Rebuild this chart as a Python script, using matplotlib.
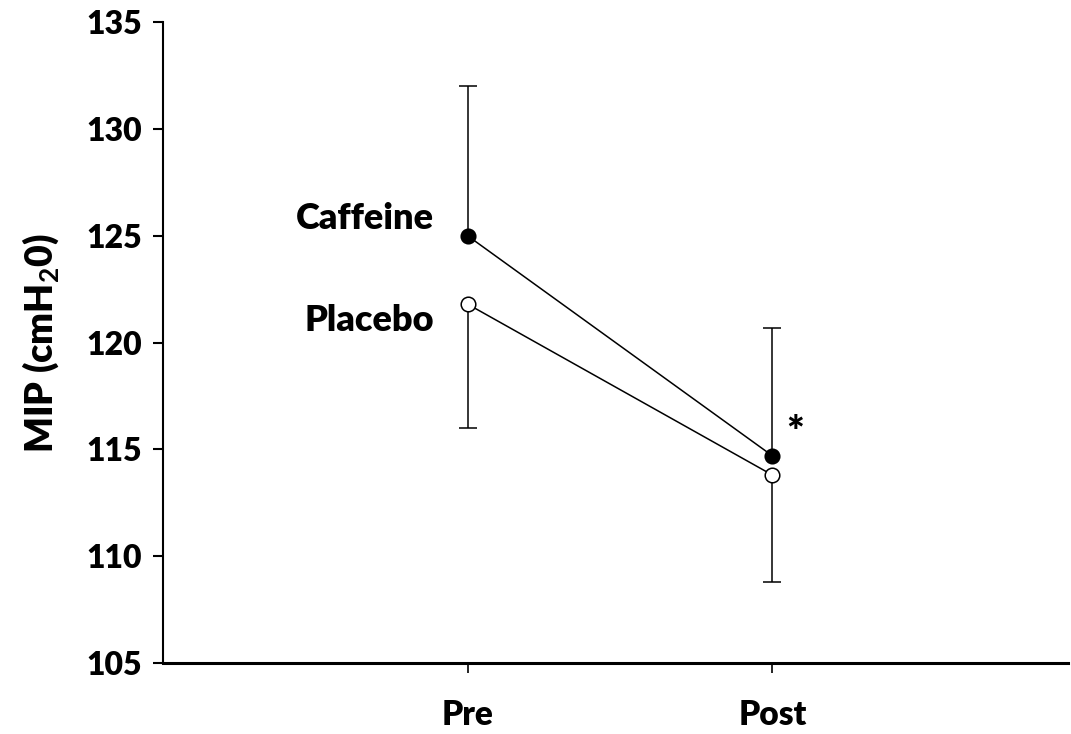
import matplotlib.pyplot as plt
import numpy as np

# Data
timepoints = ['Pre', 'Post']
caffeine = np.asarray([125.0, 114.7])
caffeine_sd = np.asarray([7.0, 6.0])
placebo = np.asarray([121.8, 113.8])
placebo_sd = np.asarray([5.8, 5.0])

plt.rcParams['font.family'] = ['Lato', 'DejaVu Sans']
plt.rcParams['font.weight'] = 'bold'
plt.rcParams['mathtext.fontset'] = 'custom'
plt.rcParams['mathtext.rm'] = 'Lato:bold'
plt.rcParams['mathtext.bf'] = 'Lato:bold'

fig = plt.figure(figsize=(10.71, 7.34), dpi=100)
ax = fig.add_axes([0.1522, 0.0967, 0.845, 0.873])

x = np.arange(1, len(timepoints) + 1)

# One-sided error bars: caffeine up, placebo down
_, caps_c, _ = ax.errorbar(x, caffeine, yerr=[np.zeros(2), caffeine_sd], fmt='none',
                           ecolor='black', elinewidth=1.1, capsize=6.5, capthick=1.1, zorder=1)
caps_c[0].set_visible(False)
_, caps_p, _ = ax.errorbar(x, placebo, yerr=[placebo_sd, np.zeros(2)], fmt='none',
                           ecolor='black', elinewidth=1.1, capsize=6.5, capthick=1.1, zorder=1)
caps_p[1].set_visible(False)

ax.plot(x, caffeine, color='black', lw=1.1, marker='o', markersize=10.5,
        markerfacecolor='black', markeredgecolor='black', markeredgewidth=1.1, zorder=3)
ax.plot(x, placebo, color='black', lw=1.1, marker='o', markersize=10.5,
        markerfacecolor='white', markeredgecolor='black', markeredgewidth=1.1, zorder=3)

# Series labels and significance marker
ax.text(0.89, 125.8, 'Caffeine', ha='right', va='center', fontsize=26, fontweight='heavy')
ax.text(0.89, 121.05, 'Placebo', ha='right', va='center', fontsize=26, fontweight='heavy')
ax.text(2.075, 115.7, '*', ha='center', va='center', fontsize=30, fontweight='heavy')

ax.set_xlim(0, 2.97)
ax.set_ylim(105, 135)
ax.set_xticks(x)
ax.set_xticklabels(timepoints, fontsize=24, fontweight='heavy')
ax.set_yticks(np.arange(105, 136, 5))
ax.tick_params(axis='y', labelsize=23, direction='out', length=7, width=1.5, pad=8)
ax.tick_params(axis='x', direction='out', length=7, width=1.2, pad=19)
for lab in ax.get_yticklabels():
    lab.set_fontweight('heavy')

ax.set_ylabel('MIP (cmH$_{\\mathbf{2}}$0)', fontsize=27, fontweight='heavy', labelpad=18)

ax.spines['top'].set_visible(False)
ax.spines['right'].set_visible(False)
ax.spines['left'].set_linewidth(1.5)
ax.spines['bottom'].set_linewidth(2.2)

plt.savefig('out.png', dpi=100)
